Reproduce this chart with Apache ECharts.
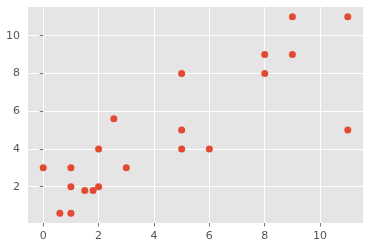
<!DOCTYPE html>
<html><head><meta charset="utf-8">
<script src="https://cdn.jsdelivr.net/npm/echarts@6/dist/echarts.min.js"></script>
<style>html,body{margin:0;padding:0;background:#fff}#c{width:368px;height:248px}</style>
</head><body><div id="c"></div>
<script>
const xValues = [0, 0.6, 1, 1, 1, 1.5, 1.8, 2, 2, 2.55, 3, 5, 5, 5, 6, 8, 8, 9, 9, 11, 11];
const yValues = [3, 0.6, 0.6, 3, 2, 1.8, 1.8, 2, 4, 5.6, 3, 8, 5, 4, 4, 9, 8, 11, 9, 11, 5];
const xTicks = [0, 2, 4, 6, 8, 10];
const yTicks = [2, 4, 6, 8, 10];

const chart = echarts.init(document.getElementById('c'), null, {renderer: 'canvas'});
const axisCommon = {
  type: 'value',
  axisLine: {show: false},
  axisTick: {show: true, length: 3.5, lineStyle: {color: '#555555', width: 0.8}},
  axisLabel: {color: '#555555', fontFamily: 'DejaVu Sans', fontSize: 11, margin: 8},
  splitLine: {show: true, lineStyle: {color: '#ffffff', width: 1}}
};
chart.setOption({
  animation: false,
  backgroundColor: '#ffffff',
  grid: {left: 28, right: 5, top: 7, bottom: 25, show: true, backgroundColor: '#E5E5E5', borderWidth: 0},
  xAxis: Object.assign({}, axisCommon, {
    min: -0.55, max: 11.55,
    axisTick: Object.assign({}, axisCommon.axisTick, {customValues: xTicks}),
    axisLabel: Object.assign({}, axisCommon.axisLabel, {customValues: xTicks})
  }),
  yAxis: Object.assign({}, axisCommon, {
    min: 0.08, max: 11.52,
    axisTick: Object.assign({}, axisCommon.axisTick, {customValues: yTicks}),
    axisLabel: Object.assign({}, axisCommon.axisLabel, {customValues: yTicks})
  }),
  series: [{
    type: 'scatter',
    data: xValues.map((x, i) => [x, yValues[i]]),
    symbolSize: 7,
    itemStyle: {color: '#E24A33', opacity: 1}
  }]
});
</script></body></html>
